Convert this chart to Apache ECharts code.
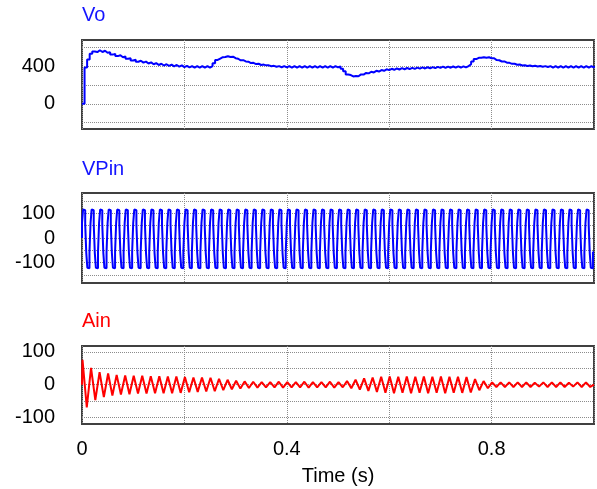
<!DOCTYPE html>
<html>
<head>
<meta charset="utf-8">
<script src="https://cdn.jsdelivr.net/npm/echarts@6/dist/echarts.min.js"></script>
<style>
  html, body { margin: 0; padding: 0; background: #ffffff; }
  #chart { width: 597px; height: 489px; }
</style>
</head>
<body>
<div id="chart"></div>
<script>
// ---- time axis ----
const timeMax = 1.0;
const timeLabelValues = [0, 0.4, 0.8];

// ---- Vo: output voltage, one sample every 5 ms ----
const voStep = 0.005;
const voValues = [
  0, 385, 470, 530, 555, 549, 568, 550, 563, 542,
  548, 522, 530, 506, 515, 494, 502, 478, 484, 459,
  468, 446, 457, 437, 448, 428, 440, 420, 432, 412,
  425, 406, 420, 402, 416, 398, 412, 394, 408, 389,
  403, 386, 400, 384, 400, 384, 400, 384, 400, 384,
  400, 430, 465, 480, 495, 496, 505, 497, 500, 484,
  478, 462, 463, 450, 447, 432, 435, 422, 425, 412,
  416, 408, 408, 399, 403, 393, 400, 388, 400, 386,
  400, 385, 400, 385, 400, 385, 400, 385, 400, 385,
  400, 385, 400, 385, 400, 385, 400, 385, 400, 386,
  398, 372, 345, 312, 305, 290, 296, 292, 312, 310,
  328, 323, 340, 333, 350, 342, 358, 350, 366, 357,
  372, 361, 375, 364, 378, 367, 380, 369, 382, 371,
  384, 373, 386, 375, 388, 377, 390, 379, 392, 381,
  394, 382, 395, 383, 396, 384, 397, 385, 398, 386,
  400, 420, 450, 475, 488, 488, 495, 489, 494, 484,
  484, 464, 462, 449, 450, 436, 435, 424, 425, 415,
  417, 407, 410, 402, 406, 398, 403, 396, 401, 394,
  400, 390, 400, 384, 400, 384, 400, 384, 400, 384,
  400, 384, 400, 384, 400, 384, 400, 384, 400, 384,
  400
];

// ---- VPin: stepped input voltage, held levels of one 60 Hz period ----
const lineFreq = 60;
const vpinCycleCount = 60;
const vpinCycle = [60, 115, 112, 55, -60, -120, -122, -58];

// ---- Ain: input current, positive and negative peak of each period ----
const ainPeaks = [
  76, 51, 38, 34, 30, 28, 27, 27, 26, 26,
  25, 25, 23, 22, 22, 21, 18, 15, 12, 10,
  9, 8, 8, 9, 8, 8, 9, 8, 8, 9,
  8, 11, 15, 19, 22, 24, 25, 24, 25, 24,
  25, 24, 25, 24, 24, 23, 17, 11, 7, 7,
  7, 7, 7, 6, 7, 7, 7, 6, 7, 7
];
const ainTroughs = [
  -69, -47, -38, -33, -30, -29, -27, -27, -26, -26,
  -26, -25, -23, -22, -21, -20, -17, -14, -12, -10,
  -9, -8, -8, -9, -8, -8, -9, -8, -8, -9,
  -8, -11, -15, -19, -22, -25, -26, -25, -26, -25,
  -26, -25, -26, -25, -25, -24, -17, -11, -7, -7,
  -7, -7, -7, -6, -7, -7, -7, -6, -7, -7
];

// ---- value-axis grid lines and labels ----
const voGridValues = [-200, 0, 200, 400, 600];
const voLabelValues = [0, 400];
const vpinGridValues = [-150, -100, -50, 0, 50, 100, 150];
const vpinLabelValues = [-100, 0, 100];
const ainGridValues = [-100, -50, 0, 50, 100];
const ainLabelValues = [-100, 0, 100];

// ---- build series data ----
const voData = voValues.map((v, i) => [+(i * voStep).toFixed(4), v]);

const vpinData = [[0, 0]];
const vpinDt = 1 / (lineFreq * vpinCycle.length);
for (let c = 0; c < vpinCycleCount; c++) {
  vpinCycle.forEach((v, j) => {
    vpinData.push([(c * vpinCycle.length + j) * vpinDt, v]);
  });
}
vpinData.push([timeMax, vpinCycle[vpinCycle.length - 1]]);

const ainData = [[0, 0]];
const period = 1 / lineFreq;
ainPeaks.forEach((p, k) => {
  ainData.push([k * period + 0.001, p]);
  ainData.push([k * period + 0.001 + period / 2, ainTroughs[k]]);
});
ainData.push([timeMax, 0]);

// ---- styling ----
const FONT = 'Liberation Sans, Arial, Helvetica, sans-serif';
const BLUE = '#0000ff';
const RED = '#ff0000';
const gridLineStyle = { color: '#8c8c8c', type: [1, 1], width: 1 };

const panels = [
  { top: 40, height: 89, min: -267, max: 677, gridVals: voGridValues, labels: voLabelValues, data: voData, color: BLUE, step: 'end', width: 2, title: 'Vo', titleY: 15 },
  { top: 193, height: 90, min: -182, max: 182, gridVals: vpinGridValues, labels: vpinLabelValues, data: vpinData, color: BLUE, step: 'end', width: 2, title: 'VPin', titleY: 169 },
  { top: 346, height: 78, min: -120, max: 118, gridVals: ainGridValues, labels: ainLabelValues, data: ainData, color: RED, step: false, width: 2, title: 'Ain', titleY: 321 }
];

const grid = panels.map(p => ({
  left: 82, width: 512, top: p.top, height: p.height,
  show: true, borderColor: '#404040', borderWidth: 2, backgroundColor: 'transparent',
  containLabel: false
}));

const xAxis = panels.map((p, i) => ({
  type: 'value', gridIndex: i, min: 0, max: timeMax, interval: 0.2,
  axisLine: { show: false }, axisTick: { show: false },
  splitLine: { show: true, lineStyle: gridLineStyle },
  axisLabel: {
    show: i === panels.length - 1,
    fontSize: 20, fontFamily: FONT, color: '#000', margin: 15,
    formatter: v => timeLabelValues.some(t => Math.abs(t - v) < 1e-6) ? String(+v.toFixed(1)) : ''
  },
  name: i === panels.length - 1 ? 'Time (s)' : '',
  nameLocation: 'middle', nameGap: 42,
  nameTextStyle: { fontSize: 20, fontFamily: FONT, color: '#000' }
}));

const yAxis = panels.map((p, i) => ({
  type: 'value', gridIndex: i, min: p.min, max: p.max,
  axisLine: { show: false }, axisTick: { show: false },
  splitLine: { show: false },
  axisLabel: {
    customValues: p.labels,
    fontSize: 20, fontFamily: FONT, color: '#000', margin: 27
  }
}));

const series = [];
panels.forEach((p, i) => {
  // dotted horizontal grid lines, kept beneath the traces
  series.push({
    type: 'line', xAxisIndex: i, yAxisIndex: i, data: [], z: 1, silent: true,
    markLine: {
      z: 1, silent: true, symbol: 'none', animation: false,
      label: { show: false },
      lineStyle: gridLineStyle,
      data: p.gridVals.map(v => ({ yAxis: v }))
    }
  });
  series.push({
    type: 'line', xAxisIndex: i, yAxisIndex: i, data: p.data, z: 3,
    step: p.step, showSymbol: false, symbol: 'none', animation: false,
    lineStyle: { color: p.color, width: p.width },
    itemStyle: { color: p.color }
  });
});

const titles = panels.map(p => ({
  type: 'text', x: 82, y: p.titleY,
  style: {
    text: p.title, fill: p.color === RED ? RED : '#1414ff',
    font: '20px ' + FONT, verticalAlign: 'middle', align: 'left'
  }
}));

const chart = echarts.init(document.getElementById('chart'), null, { renderer: 'canvas' });
chart.setOption({
  animation: false,
  backgroundColor: '#ffffff',
  grid, xAxis, yAxis, series,
  graphic: titles
});
</script>
</body>
</html>
